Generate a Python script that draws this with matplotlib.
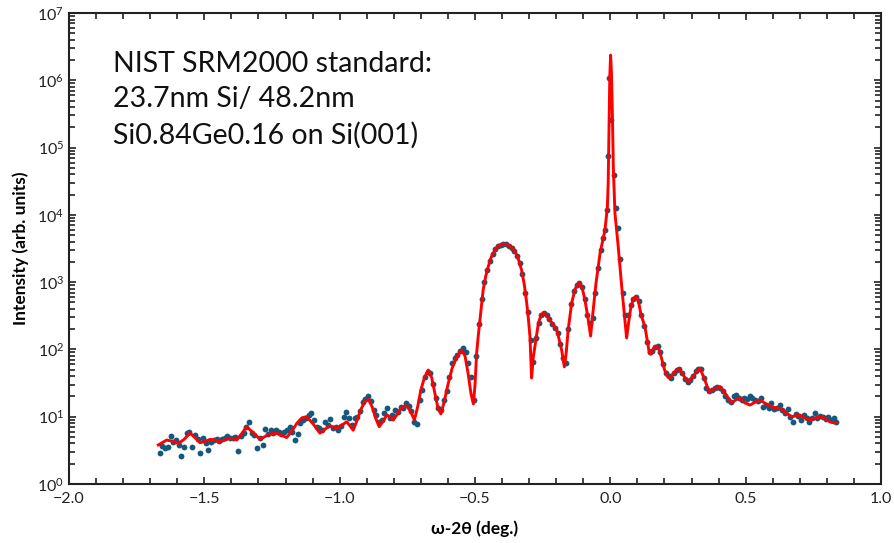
import matplotlib
matplotlib.use("Agg")
import matplotlib.pyplot as plt
from matplotlib.ticker import MultipleLocator, LogLocator, NullFormatter

plt.rcParams['font.family'] = ['Lato', 'DejaVu Sans']

# measured scan (omega-2theta, deg) and counts
omega_meas = [
    -1.665, -1.655, -1.645, -1.635, -1.625, -1.615, -1.605, -1.595, -1.585, -1.575,
    -1.565, -1.555, -1.545, -1.535, -1.525, -1.515, -1.505, -1.495, -1.485, -1.475,
    -1.465, -1.455, -1.445, -1.435, -1.425, -1.415, -1.405, -1.395, -1.385, -1.375,
    -1.365, -1.355, -1.345, -1.335, -1.325, -1.315, -1.305, -1.295, -1.285, -1.275,
    -1.265, -1.255, -1.245, -1.235, -1.225, -1.215, -1.205, -1.195, -1.185, -1.175,
    -1.165, -1.155, -1.145, -1.135, -1.125, -1.115, -1.105, -1.095, -1.085, -1.075,
    -1.065, -1.055, -1.045, -1.035, -1.025, -1.015, -1.005, -0.995, -0.985, -0.975,
    -0.965, -0.955, -0.945, -0.935, -0.925, -0.915, -0.905, -0.895, -0.885, -0.875,
    -0.865, -0.855, -0.845, -0.835, -0.825, -0.815, -0.805, -0.795, -0.785, -0.775,
    -0.765, -0.755, -0.745, -0.735, -0.725, -0.715, -0.705, -0.695, -0.685, -0.675,
    -0.665, -0.655, -0.645, -0.635, -0.625, -0.615, -0.605, -0.595, -0.585, -0.575,
    -0.565, -0.555, -0.545, -0.535, -0.525, -0.515, -0.505, -0.495, -0.485, -0.475,
    -0.465, -0.455, -0.445, -0.435, -0.425, -0.415, -0.405, -0.395, -0.385, -0.375,
    -0.365, -0.355, -0.345, -0.335, -0.325, -0.315, -0.305, -0.295, -0.285, -0.275,
    -0.265, -0.255, -0.245, -0.235, -0.225, -0.215, -0.205, -0.195, -0.185, -0.175,
    -0.165, -0.155, -0.145, -0.135, -0.125, -0.115, -0.105, -0.095, -0.085, -0.075,
    -0.065, -0.055, -0.045, -0.035, -0.026, -0.020, -0.0135, -0.0095, -0.005, 0.004,
    0.013, 0.0225, 0.027, 0.035, 0.045, 0.055, 0.065, 0.075, 0.085, 0.095,
    0.105, 0.115, 0.125, 0.135, 0.145, 0.155, 0.165, 0.175, 0.185, 0.195,
    0.205, 0.215, 0.225, 0.235, 0.245, 0.255, 0.265, 0.275, 0.285, 0.295,
    0.305, 0.315, 0.325, 0.335, 0.345, 0.355, 0.365, 0.375, 0.385, 0.395,
    0.405, 0.415, 0.425, 0.435, 0.445, 0.455, 0.465, 0.475, 0.485, 0.495,
    0.505, 0.515, 0.525, 0.535, 0.545, 0.555, 0.565, 0.575, 0.585, 0.595,
    0.605, 0.615, 0.625, 0.635, 0.645, 0.655, 0.665, 0.675, 0.685, 0.695,
    0.705, 0.715, 0.725, 0.735, 0.745, 0.755, 0.765, 0.775, 0.785, 0.795,
    0.805, 0.815, 0.825, 0.835,
]
counts_meas = [
    2.9, 3.7, 3.4, 3.5, 5.2, 4.25, 4.5, 3.8, 2.6, 3.6,
    5.8, 6.0, 3.6, 5.35, 4.6, 2.85, 4.75, 4.0, 3.2, 4.25,
    4.5, 4.6, 4.4, 4.6, 4.9, 5.2, 4.8, 4.9, 5.0, 3.1,
    5.2, 5.7, 7.1, 8.4, 5.7, 5.35, 3.4, 4.8, 3.8, 6.5,
    5.6, 6.3, 5.7, 6.3, 5.9, 5.5, 6.0, 6.3, 7.1, 5.9,
    4.5, 5.6, 8.1, 8.9, 9.5, 10.6, 11.2, 9.0, 7.1, 6.8,
    6.3, 8.4, 7.5, 9.3, 6.7, 7.1, 6.3, 7.3, 10.0, 11.7,
    9.5, 7.5, 9.5, 10.0, 12.0, 16.7, 18.5, 20.0, 17.0, 12.6,
    10.5, 8.3, 9.0, 11.5, 13.3, 9.5, 10.5, 12.6, 11.8, 14.0,
    13.4, 15.8, 14.2, 12.0, 8.4, 7.9, 17.7, 25.0, 39.0, 46.5,
    44.0, 31.0, 18.8, 13.5, 12.6, 17.7, 24.0, 39.0, 62.0, 74.0,
    83.0, 95.0, 104.0, 90.0, 62.0, 39.0, 17.7, 80.0, 240.0, 560.0,
    1000.0, 1500.0, 2050.0, 2600.0, 3100.0, 3400.0, 3600.0, 3700.0, 3650.0, 3500.0,
    3250.0, 2950.0, 2450.0, 1900.0, 1300.0, 700.0, 360.0, 138.0, 65.0, 150.0,
    250.0, 330.0, 345.0, 320.0, 280.0, 240.0, 210.0, 175.0, 120.0, 75.0,
    62.0, 200.0, 470.0, 730.0, 900.0, 980.0, 850.0, 560.0, 330.0, 250.0,
    290.0, 700.0, 1600.0, 3000.0, 4470.0, 5950.0, 12000.0, 74000.0, 1.1e6, 2.6e5,
    3.9e4, 12500.0, 6300.0, 2200.0, 700.0, 330.0, 330.0, 450.0, 560.0, 610.0,
    520.0, 330.0, 220.0, 130.0, 90.0, 95.0, 110.0, 112.0, 90.0, 60.0,
    45.0, 40.0, 38.0, 44.0, 50.0, 52.0, 45.0, 36.0, 33.0, 35.0,
    40.0, 48.0, 52.0, 52.0, 38.0, 27.0, 24.0, 25.0, 27.0, 28.0,
    27.0, 24.0, 20.0, 18.0, 16.5, 20.0, 21.0, 19.0, 18.0, 19.0,
    18.5, 20.0, 19.0, 18.0, 17.0, 19.0, 14.0, 15.0, 13.5, 16.0,
    13.0, 13.5, 15.0, 12.5, 11.5, 13.0, 10.0, 8.4, 11.0, 10.4,
    9.0, 10.6, 9.5, 8.4, 9.6, 11.5, 9.5, 10.2, 9.8, 9.2,
    10.0, 8.8, 9.6, 8.3,
]

# simulated fit curve
omega_fit = [
    -1.670, -1.639, -1.615, -1.596, -1.575, -1.553, -1.535, -1.516, -1.497, -1.479,
    -1.463, -1.448, -1.430, -1.412, -1.396, -1.380, -1.362, -1.344, -1.320, -1.294,
    -1.279, -1.264, -1.248, -1.233, -1.215, -1.196, -1.178, -1.158, -1.140, -1.122,
    -1.098, -1.073, -1.055, -1.036, -1.022, -1.011, -0.992, -0.974, -0.962, -0.950,
    -0.935, -0.921, -0.908, -0.894, -0.880, -0.867, -0.854, -0.840, -0.826, -0.814,
    -0.802, -0.790, -0.777, -0.765, -0.753, -0.738, -0.724, -0.712, -0.700, -0.687,
    -0.673, -0.660, -0.648, -0.636, -0.626, -0.615, -0.600, -0.585, -0.568, -0.549,
    -0.537, -0.526, -0.515, -0.506, -0.500, -0.494, -0.488, -0.482, -0.476, -0.470,
    -0.460, -0.451, -0.442, -0.433, -0.420, -0.405, -0.389, -0.372, -0.352, -0.340,
    -0.328, -0.318, -0.309, -0.303, -0.297, -0.291, -0.285, -0.279, -0.266, -0.257,
    -0.248, -0.236, -0.223, -0.210, -0.198, -0.189, -0.180, -0.170, -0.163, -0.156,
    -0.143, -0.130, -0.115, -0.104, -0.094, -0.083, -0.073, -0.063, -0.053, -0.038,
    -0.028, -0.020, -0.011, -0.008, -0.005, -0.002, 0.001, 0.004, 0.008, 0.011,
    0.017, 0.029, 0.042, 0.054, 0.060, 0.068, 0.076, 0.085, 0.095, 0.104,
    0.113, 0.128, 0.137, 0.144, 0.150, 0.160, 0.175, 0.185, 0.200, 0.210,
    0.220, 0.238, 0.255, 0.272, 0.288, 0.310, 0.331, 0.348, 0.365, 0.385,
    0.405, 0.425, 0.448, 0.465, 0.479, 0.497, 0.516, 0.535, 0.553, 0.575,
    0.596, 0.617, 0.638, 0.655, 0.670, 0.685, 0.700, 0.718, 0.737, 0.755,
    0.774, 0.792, 0.811, 0.825, 0.836,
]
counts_fit = [
    3.8, 4.5, 4.3, 4.0, 4.6, 5.7, 4.9, 4.1, 4.3, 4.6,
    4.5, 4.25, 4.4, 4.75, 4.7, 4.5, 5.6, 7.1, 5.8, 4.6,
    5.0, 5.35, 5.6, 5.66, 5.3, 4.9, 6.0, 8.0, 9.6, 10.0,
    7.8, 5.7, 6.5, 7.3, 7.0, 6.7, 7.5, 8.4, 7.3, 6.3,
    9.0, 13.0, 16.5, 18.2, 14.0, 9.5, 7.1, 8.5, 10.6, 10.0,
    8.9, 10.5, 12.8, 14.2, 14.5, 12.0, 8.9, 14.0, 25.0, 38.0,
    49.4, 38.0, 22.0, 13.0, 11.0, 16.0, 30.0, 52.0, 77.0, 98.0,
    80.0, 45.0, 22.0, 15.5, 30.0, 88.0, 160.0, 270.0, 450.0, 763.0,
    1250.0, 1700.0, 2250.0, 2700.0, 3250.0, 3600.0, 3700.0, 3500.0, 2880.0, 2200.0,
    1513.0, 920.0, 490.0, 290.0, 155.0, 37.6, 75.0, 109.0, 245.0, 315.0,
    350.0, 320.0, 270.0, 230.0, 194.0, 140.0, 98.0, 55.0, 90.0, 194.0,
    490.0, 800.0, 970.0, 820.0, 545.0, 300.0, 158.0, 400.0, 970.0, 2700.0,
    4200.0, 5950.0, 13000.0, 3.0e4, 2.0e5, 1.2e6, 2.37e6, 1.3e6, 2.5e5, 5.0e4,
    10500.0, 3400.0, 850.0, 270.0, 148.0, 260.0, 430.0, 570.0, 605.0, 520.0,
    330.0, 216.0, 130.0, 88.0, 85.0, 105.0, 112.0, 85.0, 50.0, 40.0,
    37.6, 47.0, 51.0, 40.0, 33.0, 42.0, 53.0, 36.0, 23.5, 26.0,
    28.0, 22.0, 16.0, 18.0, 19.0, 16.0, 14.9, 16.5, 17.7, 15.5,
    14.0, 13.5, 12.6, 11.0, 10.0, 10.3, 10.6, 9.6, 8.9, 9.5,
    10.0, 9.5, 8.4, 8.1, 8.1,
]

fig = plt.figure(figsize=(8.95, 5.43), dpi=100)
ax = fig.add_axes([0.0771, 0.1087, 0.9073, 0.8673])

ax.plot(omega_meas, counts_meas, 'o', color='#14587e', markersize=4.2,
        markeredgewidth=0, zorder=2)
ax.plot(omega_fit, counts_fit, '-', color='#ff0000', lw=2.1, zorder=3)

ax.set_yscale('log')
ax.set_xlim(-2.0, 1.0)
ax.set_ylim(1, 1e7)
ax.xaxis.set_major_locator(MultipleLocator(0.5))
ax.xaxis.set_minor_locator(MultipleLocator(0.1))
ax.xaxis.set_major_formatter(plt.FuncFormatter(lambda v, p: f"{v:.1f}".replace('-', '\u2212')))
ax.yaxis.set_major_locator(LogLocator(base=10, numticks=10))
ax.yaxis.set_minor_locator(LogLocator(base=10, subs=range(2, 10), numticks=20))
ax.yaxis.set_minor_formatter(NullFormatter())

ax.tick_params(which='both', direction='in', top=True, right=True, labelsize=11.5,
               width=1.2, colors='#222222', labelcolor='#222222')
ax.tick_params(which='major', length=5)
ax.tick_params(which='minor', length=4)
ax.tick_params(axis='x', pad=6)
for s in ax.spines.values():
    s.set_linewidth(1.5)
    s.set_color('#222222')

ax.set_xlabel('\u03c9-2\u03b8 (deg.)', fontsize=12.5, fontweight='bold', labelpad=10)
ax.set_ylabel('Intensity (arb. units)', fontsize=12.5, fontweight='bold', labelpad=6)

ax.text(0.054, 0.92, 'NIST SRM2000 standard:\n23.7nm Si/ 48.2nm\nSi0.84Ge0.16 on Si(001)',
        transform=ax.transAxes, fontsize=20.5, va='top', ha='left',
        linespacing=1.45, color='#111111')

fig.savefig('out.png', dpi=100)
